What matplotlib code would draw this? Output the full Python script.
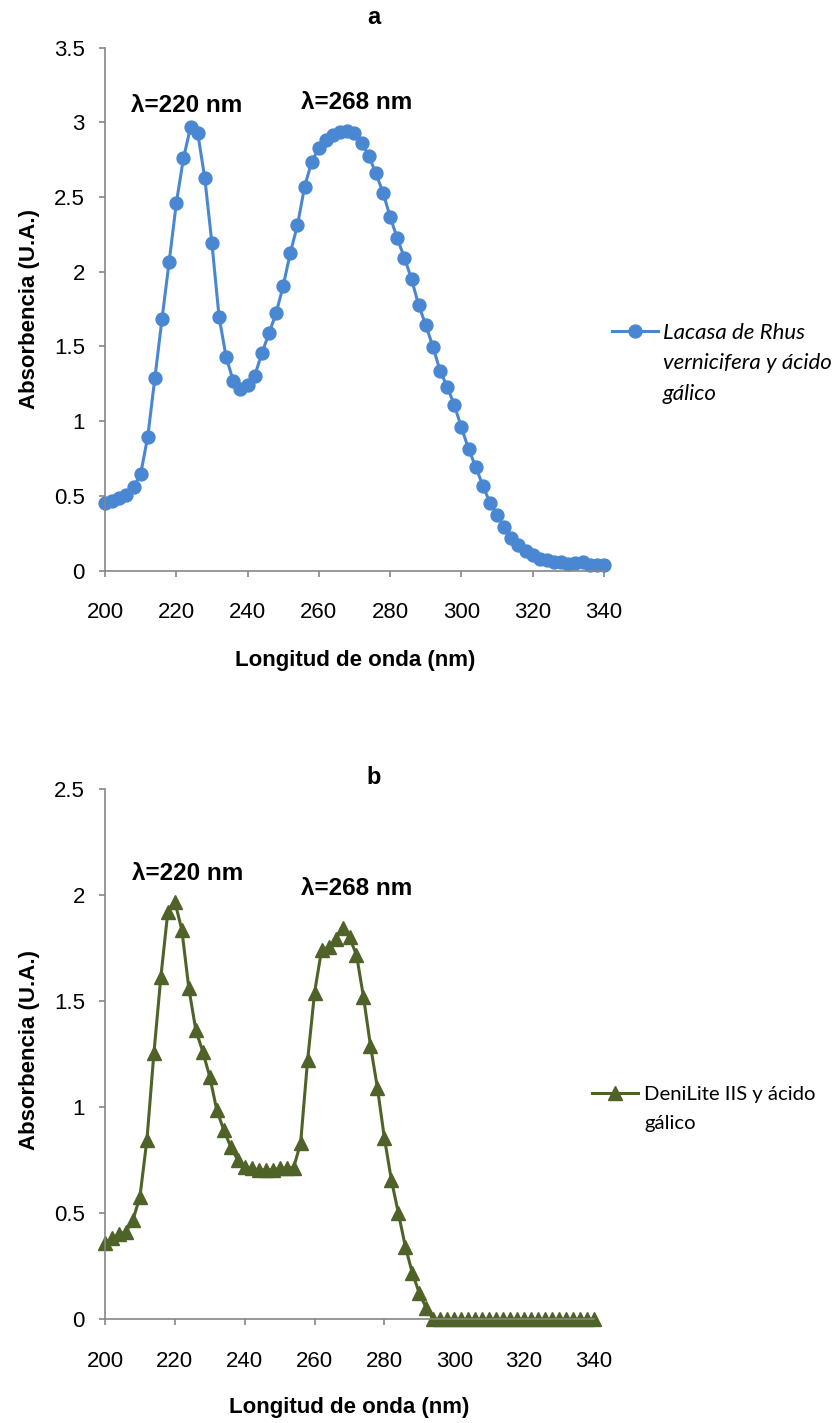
import matplotlib
matplotlib.use("Agg")
import matplotlib.pyplot as plt
from matplotlib.ticker import MultipleLocator, FuncFormatter

plt.rcParams["font.family"] = ["Liberation Sans", "DejaVu Sans"]

W, H = 840, 1423

# Longitud de onda del barrido (nm), cada 2 nm
longitud = list(range(200, 342, 2))

# Lacasa de Rhus vernicifera + ácido gálico
abs_lacasa = [
    0.455, 0.468, 0.484, 0.506, 0.558, 0.647, 0.897, 1.291, 1.686, 2.067,
    2.457, 2.758, 2.966, 2.930, 2.625, 2.190, 1.699, 1.427, 1.269, 1.213,
    1.242, 1.304, 1.454, 1.588, 1.722, 1.906, 2.127, 2.312, 2.569, 2.736,
    2.829, 2.881, 2.914, 2.937, 2.943, 2.925, 2.863, 2.776, 2.658, 2.529,
    2.368, 2.223, 2.094, 1.951, 1.777, 1.643, 1.499, 1.338, 1.231, 1.108,
    0.959, 0.814, 0.696, 0.569, 0.455, 0.373, 0.294, 0.217, 0.172, 0.134,
    0.105, 0.078, 0.072, 0.056, 0.056, 0.045, 0.054, 0.056, 0.038, 0.038,
    0.038,
]

# DeniLite IIS + ácido gálico
abs_denilite = [
    0.358, 0.382, 0.402, 0.413, 0.468, 0.578, 0.845, 1.254, 1.615, 1.921,
    1.968, 1.835, 1.560, 1.363, 1.261, 1.143, 0.986, 0.892, 0.813, 0.751,
    0.719, 0.712, 0.704, 0.704, 0.704, 0.712, 0.712, 0.715, 0.830, 1.220,
    1.540, 1.740, 1.755, 1.790, 1.845, 1.800, 1.717, 1.520, 1.290, 1.090,
    0.853, 0.656, 0.500, 0.342, 0.217, 0.123, 0.052, 0.0, 0.0, 0.0,
    0.0, 0.0, 0.0, 0.0, 0.0, 0.0, 0.0, 0.0, 0.0, 0.0,
    0.0, 0.0, 0.0, 0.0, 0.0, 0.0, 0.0, 0.0, 0.0, 0.0,
    0.0,
]

AZUL = "#4a87d3"
VERDE = "#4f6228"
GRIS = "#868686"


def px(x, y):
    # pixel (desde arriba a la izquierda) -> fraccion de figura
    return x / W, 1 - y / H


def estilo_ejes(ax, ymax):
    for s in ["top", "right"]:
        ax.spines[s].set_visible(False)
    for s in ["left", "bottom"]:
        ax.spines[s].set_color(GRIS)
        ax.spines[s].set_linewidth(1.2)
    ax.set_xlim(200, 340)
    ax.set_ylim(0, ymax)
    ax.xaxis.set_major_locator(MultipleLocator(20))
    ax.yaxis.set_major_locator(MultipleLocator(0.5))
    ax.yaxis.set_major_formatter(FuncFormatter(lambda v, p: f"{v:g}"))
    ax.tick_params(axis="both", direction="out", length=4.5, width=1.2,
                   color=GRIS, labelsize=16, labelcolor="black")
    ax.tick_params(axis="x", pad=18)
    ax.tick_params(axis="y", pad=10)
    ax.set_xlabel("Longitud de onda (nm)", fontsize=16, fontweight="bold")
    ax.set_ylabel("Absorbencia (U.A.)", fontsize=16, fontweight="bold")


fig = plt.figure(figsize=(W / 100, H / 100), dpi=100)

# --- a: lacasa ---
ax1 = fig.add_axes([105 / W, 1 - 570.7 / H, 499 / W, 523.2 / H])
estilo_ejes(ax1, 3.5)
ax1.plot(longitud, abs_lacasa, color=AZUL, lw=2.2, marker="o", ms=9.3,
         mec=AZUL, clip_on=False, label="Lacasa de Rhus")
ax1.xaxis.set_label_coords(0.501, -0.152)
ax1.yaxis.set_label_coords(-0.13, 0.5)
ax1.text(223, 3.11, "λ=220 nm", ha="center", va="center", fontsize=17.5, fontweight="bold")
ax1.text(270.6, 3.13, "λ=268 nm", ha="center", va="center", fontsize=17.5, fontweight="bold")

fs_top = 16
fs_px = fs_top * 100 / 72
ax1.legend(loc="center left", bbox_to_anchor=px(612, 333), bbox_transform=fig.transFigure,
           frameon=False, borderpad=0, borderaxespad=0, handlelength=46 / fs_px,
           handletextpad=5 / fs_px, prop={"family": "Lato", "style": "italic", "size": fs_top})
for i, linea in enumerate(["vernicifera y ácido", "gálico"]):
    fig.text(*px(663, 363 + 30.5 * i), linea, ha="left", va="center",
             family="Lato", style="italic", fontsize=fs_top)

fig.text(*px(374, 18), "a", ha="center", va="center", fontsize=17, fontweight="bold")

# --- b: DeniLite ---
ax2 = fig.add_axes([105 / W, 1 - 1319.3 / H, 489 / W, 530.5 / H])
estilo_ejes(ax2, 2.5)
ax2.plot(longitud, abs_denilite, color=VERDE, lw=2.2, marker="^", ms=9.8,
         mec=VERDE, clip_on=False, label="DeniLite IIS y ácido")
ax2.xaxis.set_label_coords(0.5, -0.146)
ax2.yaxis.set_label_coords(-0.133, 0.508)
ax2.text(223.7, 2.10, "λ=220 nm", ha="center", va="center", fontsize=17.5, fontweight="bold")
ax2.text(272, 2.03, "λ=268 nm", ha="center", va="center", fontsize=17.5, fontweight="bold")

fs_bot = 14.6
fs_px = fs_bot * 100 / 72
ax2.legend(loc="center left", bbox_to_anchor=px(592, 1094), bbox_transform=fig.transFigure,
           frameon=False, borderpad=0, borderaxespad=0, handlelength=46 / fs_px,
           handletextpad=6 / fs_px, prop={"family": "Lato", "size": fs_bot})
fig.text(*px(644, 1124), "gálico", ha="left", va="center", family="Lato", fontsize=fs_bot)

fig.text(*px(374, 778), "b", ha="center", va="center", fontsize=17, fontweight="bold")

fig.savefig("out.png", dpi=100)
